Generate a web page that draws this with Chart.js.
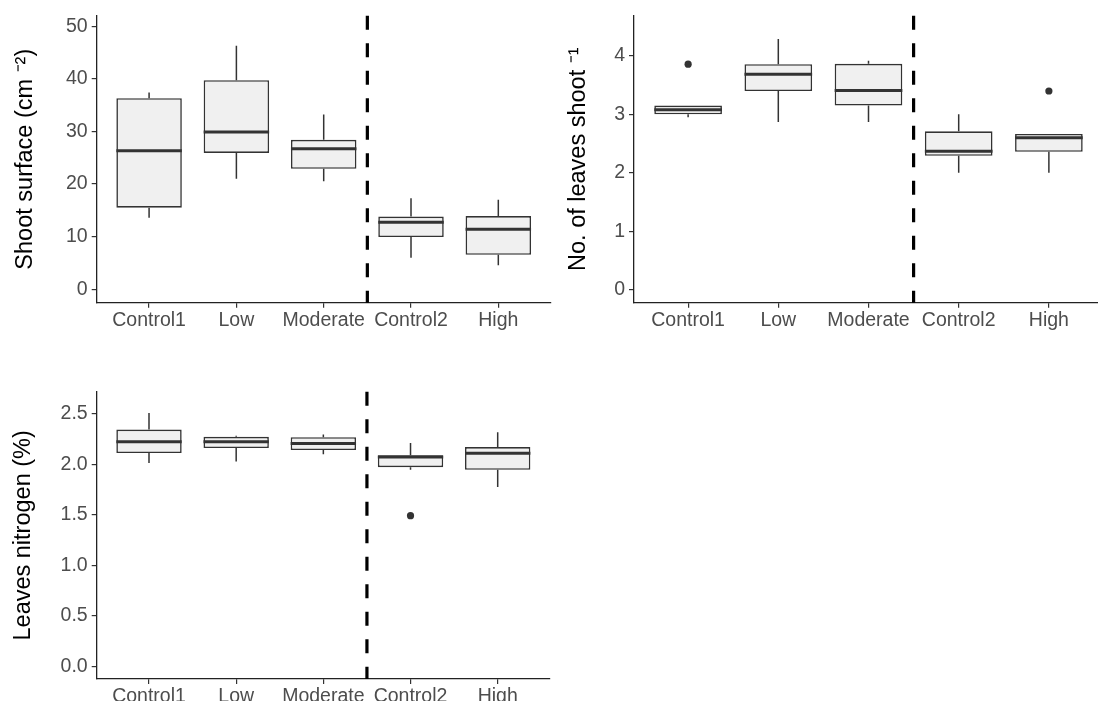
<!DOCTYPE html>
<html>
<head>
<meta charset="utf-8">
<script src="https://cdn.jsdelivr.net/npm/chart.js@4.4.1/dist/chart.umd.min.js"></script>
<style>
html,body{margin:0;padding:0;background:#fff;overflow:hidden;width:1098px;height:707px;position:relative;}
canvas{position:absolute;display:block;}
</style>
</head>
<body>
<canvas id="c1" width="560" height="345" style="left:0;top:0"></canvas>
<canvas id="c2" width="547" height="345" style="left:560px;top:0"></canvas>
<canvas id="c3" width="560" height="325" style="left:0;top:376px"></canvas>
<script>
// ---- data ----
const categories = ['Control1', 'Low', 'Moderate', 'Control2', 'High'];
const dividerAt = 2.5; // between "Moderate" and "Control2"

// Shoot surface
const surfMin = [13.6, 21.0, 20.5, 6.0, 4.55];
const surfQ1  = [15.5, 25.9, 22.9, 9.9, 6.55];
const surfMed = [26.3, 29.9, 26.7, 12.75, 11.4];
const surfQ3  = [36.3, 39.75, 28.4, 13.8, 13.9];
const surfMax = [37.4, 46.3, 33.2, 17.3, 17.0];
const surfOutCat = [];
const surfOutVal = [];
const surfTicks = [0, 10, 20, 30, 40, 50];

// Leaves per shoot
const leafMin = [2.95, 2.87, 2.87, 2.0, 2.0];
const leafQ1  = [3.0, 3.4, 3.15, 2.29, 2.36];
const leafMed = [3.08, 3.685, 3.41, 2.37, 2.60];
const leafQ3  = [3.15, 3.86, 3.865, 2.71, 2.665];
const leafMax = [3.15, 4.29, 3.92, 3.0, 2.665];
const leafOutCat = [0, 4];
const leafOutVal = [3.86, 3.40];
const leafTicks = [0, 1, 2, 3, 4];

// Leaves nitrogen
const nitMin = [2.01, 2.025, 2.097, 1.944, 1.774];
const nitQ1  = [2.11, 2.159, 2.14, 1.97, 1.944];
const nitMed = [2.221, 2.221, 2.205, 2.071, 2.107];
const nitQ3  = [2.342, 2.27, 2.267, 2.087, 2.169];
const nitMax = [2.505, 2.28, 2.293, 2.208, 2.316];
const nitOutCat = [3];
const nitOutVal = [1.49];
const nitTicks = [0, 0.5, 1.0, 1.5, 2.0, 2.5];

// ---- drawing ----
const FONT = "'Liberation Sans', Arial, Helvetica, sans-serif";
const INK = '#333333';

function boxExtras(stats) {
  return {
    id: 'boxExtras',
    beforeDatasetsDraw(chart) {
      const ctx = chart.ctx, ys = chart.scales.y;
      const meta = chart.getDatasetMeta(0);
      ctx.save();
      ctx.strokeStyle = INK; ctx.lineWidth = 1.5;
      meta.data.forEach((bar, i) => {
        const x = bar.x;
        ctx.beginPath();
        ctx.moveTo(x, ys.getPixelForValue(stats.q3[i]));
        ctx.lineTo(x, ys.getPixelForValue(stats.max[i]));
        ctx.moveTo(x, ys.getPixelForValue(stats.q1[i]));
        ctx.lineTo(x, ys.getPixelForValue(stats.min[i]));
        ctx.stroke();
      });
      ctx.restore();
    },
    afterDatasetsDraw(chart) {
      const ctx = chart.ctx, ys = chart.scales.y, xs = chart.scales.x;
      const meta = chart.getDatasetMeta(0);
      ctx.save();
      ctx.strokeStyle = INK; ctx.lineWidth = 3;
      meta.data.forEach((bar, i) => {
        const p = bar.getProps(['x', 'width'], true);
        const y = ys.getPixelForValue(stats.med[i]);
        ctx.beginPath();
        ctx.moveTo(p.x - p.width / 2, y);
        ctx.lineTo(p.x + p.width / 2, y);
        ctx.stroke();
      });
      const dx = xs.getPixelForValue(dividerAt);
      ctx.strokeStyle = '#000'; ctx.lineWidth = 3.2;
      ctx.setLineDash([14, 13.5]);
      ctx.beginPath();
      ctx.moveTo(dx, chart.chartArea.top);
      ctx.lineTo(dx, chart.chartArea.bottom);
      ctx.stroke();
      ctx.restore();
    }
  };
}

function makePanel(id, cfg) {
  const boxData = categories.map((c, i) => ({x: i, y: [cfg.q1[i], cfg.q3[i]]}));
  const outData = cfg.outCat.map((c, k) => ({x: c, y: cfg.outVal[k]}));
  return new Chart(document.getElementById(id), {
    type: 'bar',
    data: {
      datasets: [
        {
          type: 'bar', data: boxData,
          backgroundColor: '#f0f0f0', borderColor: INK, borderWidth: 1.6,
          borderSkipped: false, barPercentage: 0.75, categoryPercentage: 1.0
        },
        {
          type: 'scatter', data: outData,
          pointRadius: 3.6, pointBackgroundColor: INK, pointBorderWidth: 0, showLine: false
        }
      ]
    },
    options: {
      responsive: false, animation: false, events: [],
      layout: {padding: cfg.padding},
      plugins: {legend: {display: false}, tooltip: {enabled: false}},
      scales: {
        x: {
          type: 'linear', min: -0.6, max: 4.6, offset: false,
          afterBuildTicks: ax => { ax.ticks = categories.map((c, i) => ({value: i})); },
          afterFit: ax => { ax.height = cfg.xHeight; },
          ticks: {
            autoSkip: false, maxRotation: 0, minRotation: 0, padding: 1,
            color: '#4d4d4d', font: {family: FONT, size: 19.5},
            callback: v => categories[v]
          },
          grid: {offset: false, drawOnChartArea: false, drawTicks: true, tickLength: 5, color: INK, lineWidth: 1.2},
          border: {display: true, color: '#222', width: 1.3}
        },
        y: {
          type: 'linear', min: cfg.yMin, max: cfg.yMax,
          afterBuildTicks: ax => { ax.ticks = cfg.ticks.map(v => ({value: v})); },
          afterFit: ax => { ax.width = cfg.yWidth; },
          ticks: {
            padding: 4, color: '#4d4d4d', font: {family: FONT, size: 19.5},
            callback: v => cfg.fmt(v)
          },
          grid: {drawOnChartArea: false, drawTicks: true, tickLength: 5, color: INK, lineWidth: 1.2},
          border: {display: true, color: '#222', width: 1.3},
          title: {
            display: true, text: cfg.title, color: '#000',
            font: {family: FONT, size: 23.5, lineHeight: 1},
            padding: {top: cfg.titlePad, bottom: 0}
          }
        }
      }
    },
    plugins: [boxExtras({min: cfg.min, q1: cfg.q1, med: cfg.med, q3: cfg.q3, max: cfg.max})]
  });
}

makePanel('c1', {
  min: surfMin, q1: surfQ1, med: surfMed, q3: surfQ3, max: surfMax,
  outCat: surfOutCat, outVal: surfOutVal, ticks: surfTicks,
  yMin: -2.57, yMax: 52.0, fmt: v => String(v),
  title: 'Shoot surface (cm \u207B\u00B2)',
  padding: {top: 11.7, right: 9.3, left: 0, bottom: 0},
  xHeight: 42.3, yWidth: 96.7, titlePad: 13.5
});

makePanel('c2', {
  min: leafMin, q1: leafQ1, med: leafMed, q3: leafQ3, max: leafMax,
  outCat: leafOutCat, outVal: leafOutVal, ticks: leafTicks,
  yMin: -0.226, yMax: 4.69, fmt: v => String(v),
  title: 'No. of leaves shoot \u207B\u00B9',
  padding: {top: 11.7, right: 0, left: 0, bottom: 0},
  xHeight: 42.3, yWidth: 74, titlePad: 7
});

makePanel('c3', {
  min: nitMin, q1: nitQ1, med: nitMed, q3: nitQ3, max: nitMax,
  outCat: nitOutCat, outVal: nitOutVal, ticks: nitTicks,
  yMin: -0.127, yMax: 2.717, fmt: v => v.toFixed(1),
  title: 'Leaves nitrogen (%)',
  padding: {top: 12.3, right: 10, left: 0, bottom: 0},
  xHeight: 22, yWidth: 96.7, titlePad: 12
});
</script>
</body>
</html>
